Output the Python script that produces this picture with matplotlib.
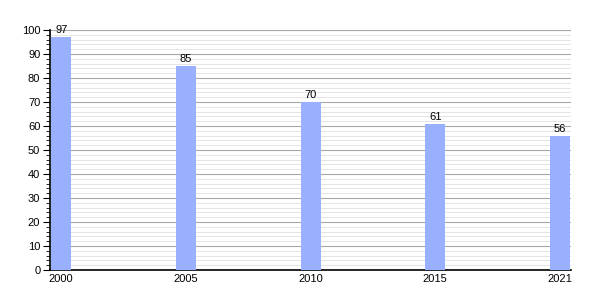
import matplotlib.pyplot as plt
import numpy as np
from matplotlib.ticker import MultipleLocator

years = ['2000', '2005', '2010', '2015', '2021']
values = [97, 85, 70, 61, 56]

plt.rcParams['font.family'] = 'Liberation Sans'
plt.rcParams['font.size'] = 8

fig = plt.figure(figsize=(6, 3), dpi=100)
ax = fig.add_axes([0.0833, 0.1, 0.8687, 0.8])

x = np.arange(len(years))
w = 0.16
ax.bar(x, values, width=w, color='#99b0ff', zorder=3)
for xi, v in zip(x, values):
    ax.text(xi, v + 0.8, str(v), ha='center', va='bottom', fontsize=8)

ax.set_xlim(-w / 2 - 0.01, len(years) - 1 + w / 2 + 0.01)
ax.set_ylim(0, 100)
ax.set_xticks(x)
ax.set_xticklabels(years)
ax.yaxis.set_major_locator(MultipleLocator(10))
ax.yaxis.set_minor_locator(MultipleLocator(2))
ax.grid(axis='y', which='major', color='#a8a8a8', linewidth=0.8, zorder=0)
ax.grid(axis='y', which='minor', color='#e0e0e0', linewidth=0.6, zorder=0)
ax.tick_params(axis='x', length=0, pad=3)
ax.tick_params(axis='y', which='major', length=5, width=0.8, pad=2)
ax.tick_params(axis='y', which='minor', length=3, width=0.6)
for s in ['top', 'right']:
    ax.spines[s].set_visible(False)
ax.spines['left'].set_linewidth(1.2)
ax.spines['bottom'].set_linewidth(1.2)

plt.savefig('out.png', dpi=100)
